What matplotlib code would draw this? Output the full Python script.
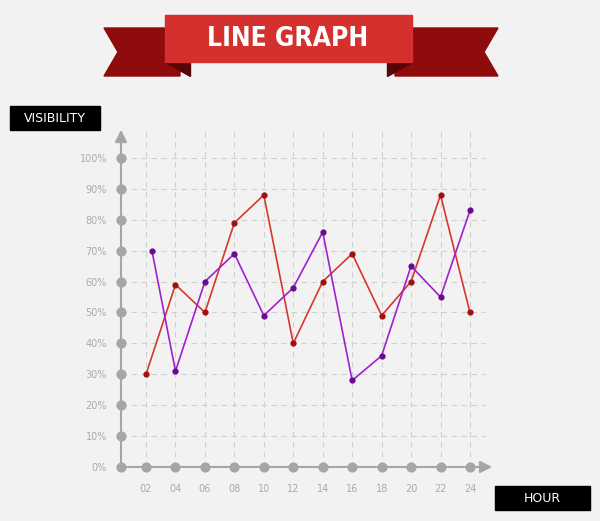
import matplotlib
matplotlib.use("Agg")
import matplotlib.pyplot as plt
from matplotlib.patches import Polygon, Rectangle

hours = [2, 4, 6, 8, 10, 12, 14, 16, 18, 20, 22, 24]
hour_labels = ["02", "04", "06", "08", "10", "12", "14", "16", "18", "20", "22", "24"]
red_vals = [30, 59, 50, 79, 88, 40, 60, 69, 49, 60, 88, 50]
purple_x = [2.4, 4, 6, 8, 10, 12, 14, 16, 18, 20, 22, 24]
purple_vals = [70, 31, 60, 69, 49, 58, 76, 28, 36, 65, 55, 83]
yticks = [0, 10, 20, 30, 40, 50, 60, 70, 80, 90, 100]

W, H = 600, 521
fig = plt.figure(figsize=(6, 5.21), dpi=100)
fig.patch.set_facecolor("#f2f2f2")

# decoration layer in pixel coordinates
deco = fig.add_axes([0, 0, 1, 1])
deco.set_xlim(0, W); deco.set_ylim(H, 0); deco.axis("off")
deco.add_patch(Polygon([(104, 28), (180, 28), (180, 76), (104, 76), (118, 52)], color="#8e0c0c"))
deco.add_patch(Polygon([(395, 28), (498, 28), (484, 52), (498, 76), (395, 76)], color="#8e0c0c"))
deco.add_patch(Polygon([(165, 62), (190, 62), (190, 76)], color="#5a0505"))
deco.add_patch(Polygon([(412, 62), (387, 62), (387, 76)], color="#5a0505"))
deco.add_patch(Rectangle((165, 15), 247, 47, color="#d3302e"))
deco.text(288, 39, "LINE GRAPH", color="white", fontsize=19, fontweight="bold",
          ha="center", va="center", family="DejaVu Sans", fontstretch="condensed")
deco.add_patch(Rectangle((10, 106), 90, 24, color="black"))
deco.text(55, 118, "VISIBILITY", color="white", fontsize=9, ha="center", va="center")
deco.add_patch(Rectangle((495, 486), 95, 24, color="black"))
deco.text(542, 498, "HOUR", color="white", fontsize=9, ha="center", va="center")

ax = fig.add_axes([121 / W, (H - 467) / H, 374 / W, 340 / H])
ax.set_facecolor("none")
ax.set_xlim(0.3, 25.7)
ax.set_ylim(0, 110)
for s in ax.spines.values():
    s.set_visible(False)
ax.tick_params(length=0, colors="#aaaaaa", labelsize=7)
ax.set_xticks(hours); ax.set_xticklabels(hour_labels)
ax.set_yticks(yticks); ax.set_yticklabels([f"{v}%" for v in yticks])
ax.tick_params(axis="x", pad=12)
ax.tick_params(axis="y", pad=10)

for v in yticks[1:]:
    ax.plot([0.3, 25.0], [v, v], ls=(0, (5, 4)), color="#d0d0d0", lw=0.8, zorder=1)
for h in hours:
    ax.plot([h, h], [0, 109], ls=(0, (5, 4)), color="#d0d0d0", lw=0.8, zorder=1)

gray = "#a6a6a6"
ax.annotate("", xy=(0.3, 110), xytext=(0.3, 0),
            arrowprops=dict(arrowstyle="-|>", color=gray, lw=1.5, mutation_scale=18), annotation_clip=False)
ax.annotate("", xy=(25.7, 0), xytext=(0.3, 0),
            arrowprops=dict(arrowstyle="-|>", color=gray, lw=1.5, mutation_scale=18), annotation_clip=False)
ax.scatter([0.3] * len(yticks), yticks, s=40, color=gray, clip_on=False, zorder=3)
ax.scatter(hours, [0] * len(hours), s=40, color=gray, clip_on=False, zorder=3)

ax.plot(hours, red_vals, color="#d4382c", lw=1.2, zorder=4)
ax.scatter(hours, red_vals, s=12, color="#a01010", zorder=5)
ax.plot(purple_x, purple_vals, color="#a020d0", lw=1.2, zorder=4)
ax.scatter(purple_x, purple_vals, s=12, color="#6a0a90", zorder=5)

fig.savefig("out.png", dpi=100, facecolor=fig.get_facecolor())
